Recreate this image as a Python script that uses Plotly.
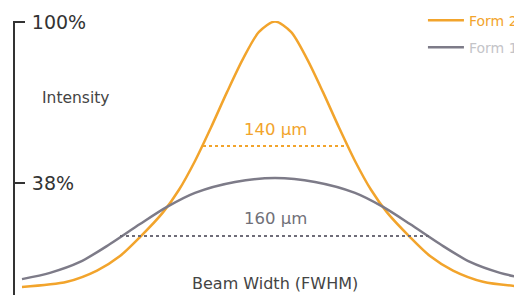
import plotly.graph_objects as go

# Beam position (µm, centered on the beam) and relative intensity (%)
form2_x = [-253, -208, -178, -155, -135, -112, -96, -80, -64, -48, -32, -16, 0, 16, 32, 48, 64, 80, 96, 112, 135, 155, 178, 208, 247]
form2_y = [-2.0, 0.0, 4.3, 9.9, 17.2, 26.7, 35.4, 46.5, 59.4, 73.0, 85.8, 96.2, 100.2, 96.2, 85.8, 73.0, 59.4, 46.5, 35.4, 26.7, 17.2, 9.9, 4.3, 0.0, -1.9]

form1_x = [-253, -225, -195, -165, -135, -108, -80, -40, 0, 40, 80, 108, 135, 165, 195, 225, 247]
form1_y = [1.0, 3.4, 7.6, 14.5, 22.2, 28.8, 34.2, 38.4, 39.9, 38.4, 34.2, 28.8, 22.2, 14.5, 7.6, 3.4, 1.5]

fwhm2_x = [-72, 70]
fwhm2_y = [52.3, 52.3]
fwhm1_x = [-155, 157]
fwhm1_y = [17.6, 17.6]

tick_vals = [38, 100]
tick_text = ["38%", "100%"]

ORANGE = "#F2A42C"
GRAY = "#7D7B88"
FONT = "DejaVu Sans"

fig = go.Figure()
fig.add_trace(go.Scatter(x=form2_x, y=form2_y, mode="lines",
                         name="<span style='color:#F2A42C'>Form 2</span>",
                         line=dict(color=ORANGE, width=2.5, shape="spline", smoothing=0.8),
                         legendgroup="a"))
fig.add_trace(go.Scatter(x=form1_x, y=form1_y, mode="lines",
                         name="<span style='color:#C4C4C8'>Form 1</span>",
                         line=dict(color=GRAY, width=2.5, shape="spline", smoothing=0.8),
                         legendgroup="b"))
fig.add_trace(go.Scatter(x=fwhm2_x, y=fwhm2_y, mode="lines", showlegend=False,
                         line=dict(color=ORANGE, width=2, dash="3px,3px")))
fig.add_trace(go.Scatter(x=fwhm1_x, y=fwhm1_y, mode="lines", showlegend=False,
                         line=dict(color="#6E6C78", width=2, dash="3px,3px")))

fig.add_annotation(x=0, y=58.5, text="140 µm", showarrow=False,
                   font=dict(family=FONT, size=16.5, color=ORANGE))
fig.add_annotation(x=0, y=24.3, text="160 µm", showarrow=False,
                   font=dict(family=FONT, size=16.5, color="#707078"))
fig.add_annotation(x=0, y=-0.5, text="Beam Width (FWHM)", showarrow=False,
                   font=dict(family=FONT, size=16, color="#444444"))
fig.add_annotation(x=-200, y=70.7, text="Intensity", showarrow=False,
                   font=dict(family=FONT, size=15.5, color="#444444"))

# The page body has an 8px margin, so the figure is 8px smaller than the window
fig.update_layout(
    width=514, height=287,
    margin=dict(l=6, r=0, t=13, b=0, autoexpand=False),
    paper_bgcolor="white", plot_bgcolor="white",
    showlegend=True,
    legend=dict(x=0.805, y=1.06, xanchor="left", yanchor="top",
                font=dict(family=FONT, size=14),
                tracegroupgap=6, traceorder="grouped", itemwidth=36,
                bgcolor="rgba(0,0,0,0)"),
    xaxis=dict(range=[-261, 247], visible=False),
    yaxis=dict(range=[-5.12, 100.4], showgrid=False, zeroline=False,
               side="right", anchor="free", position=0,
               showline=True, linecolor="#333333", linewidth=2,
               ticks="outside", ticklen=10, tickwidth=2, tickcolor="#333333",
               ticklabelstandoff=3,
               tickvals=tick_vals, ticktext=tick_text,
               tickfont=dict(family=FONT, size=19, color="#333333"),
               automargin=False),
)

fig.write_html("out.html")
